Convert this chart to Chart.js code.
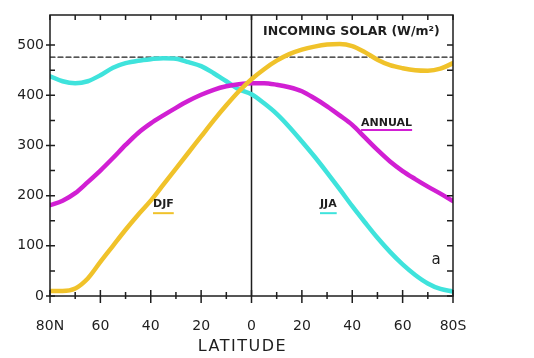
<!DOCTYPE html>
<html>
<head>
<meta charset="utf-8">
<script src="https://cdn.jsdelivr.net/npm/chart.js@4/dist/chart.umd.min.js"></script>
<style>
  html, body { margin: 0; padding: 0; background: #fff; }
</style>
</head>
<body>
<canvas id="solar" width="534" height="358"></canvas>
<script>
// incoming solar radiation (W/m2) by latitude, 80N (+) to 80S (-)
const lats   = [80, 75, 70, 65, 60, 55, 50, 45, 40, 35, 30, 25, 20, 15, 10, 5, 0,
                -5, -10, -15, -20, -25, -30, -35, -40, -45, -50, -55, -60, -65, -70, -75, -80];
const djf    = [10, 10, 15, 35, 68, 100, 132, 162, 190, 222, 254, 286, 318, 350, 380, 408, 432,
                452, 469, 482, 491, 497, 501, 502, 498, 486, 471, 460, 454, 450, 449, 453, 464];
const jja    = [438, 428, 424, 428, 440, 455, 464, 469, 472, 474, 473, 466, 458, 444, 428, 412, 402,
                384, 363, 337, 308, 278, 246, 213, 179, 147, 116, 88, 63, 42, 25, 14, 9];
const annual = [181, 190, 205, 227, 250, 275, 301, 325, 344, 360, 375, 389, 401, 411, 418, 422, 424,
                424, 421, 416, 408, 394, 378, 360, 341, 316, 291, 268, 249, 233, 218, 204, 189];
const dashedLevel = 476;

const xTickValues = [80, 70, 60, 50, 40, 30, 20, 10, 0, -10, -20, -30, -40, -50, -60, -70, -80];
const xTickText = {80: '80N', 60: '60', 40: '40', 20: '20', 0: '0', '-20': '20', '-40': '40', '-60': '60', '-80': '80S'};
const yTickValues = [0, 50, 100, 150, 200, 250, 300, 350, 400, 450, 500];

const CYAN = '#3fe3dc', MAGENTA = '#d11fd3', YELLOW = '#f0c22a', INK = '#1e1e1e';
const FONT = '"DejaVu Sans", sans-serif';

function pts(ys) { return lats.map((x, i) => ({x: x, y: ys[i]})); }

const labels = [
  {text: 'INCOMING SOLAR (W/m²)', lat: -4.6, val: 526, font: 'bold 12.5px ' + FONT},
  {text: 'ANNUAL', lat: -43.5, val: 345, font: 'bold 11px ' + FONT, under: MAGENTA, off: 7},
  {text: 'DJF', lat: 39.1, val: 183, font: 'bold 11px ' + FONT, under: YELLOW, off: 9},
  {text: 'JJA', lat: -27.2, val: 183, font: 'bold 11px ' + FONT, under: CYAN, off: 9},
  {text: 'a', lat: -71.5, val: 72, font: '15px ' + FONT}
];

const framePlugin = {
  id: 'frame',
  afterDatasetsDraw(chart) {
    const {ctx, chartArea: a, scales: {x, y}} = chart;
    ctx.save();
    ctx.strokeStyle = INK;
    ctx.lineWidth = 1.5;
    ctx.strokeRect(a.left, a.top, a.right - a.left, a.bottom - a.top);
    ctx.beginPath();
    yTickValues.forEach(v => {
      const py = y.getPixelForValue(v);
      const major = v % 100 === 0;
      ctx.moveTo(a.left - (major ? 4 : 0), py);
      ctx.lineTo(a.left + 5, py);
      ctx.moveTo(a.right, py);
      ctx.lineTo(a.right - 6, py);
    });
    xTickValues.forEach(v => {
      const px = x.getPixelForValue(v);
      const major = v % 20 === 0;
      ctx.moveTo(px, a.bottom + (major ? 7 : 3));
      ctx.lineTo(px, a.bottom - (major ? 6 : 4));
      ctx.moveTo(px, a.top);
      ctx.lineTo(px, a.top + 5);
    });
    ctx.stroke();

    ctx.fillStyle = INK;
    ctx.textBaseline = 'middle';
    labels.forEach(l => {
      ctx.font = l.font;
      const px = x.getPixelForValue(l.lat), py = y.getPixelForValue(l.val);
      ctx.textAlign = 'left';
      ctx.fillText(l.text, px, py);
      if (l.under) {
        const w = ctx.measureText(l.text).width;
        ctx.strokeStyle = l.under;
        ctx.lineWidth = 2;
        ctx.beginPath();
        ctx.moveTo(px, py + l.off);
        ctx.lineTo(px + w, py + l.off);
        ctx.stroke();
      }
    });
    // axis title
    ctx.font = '16px ' + FONT;
    ctx.letterSpacing = '1.5px';
    ctx.textAlign = 'center';
    ctx.fillText('LATITUDE', x.getPixelForValue(3.6), a.bottom + 51);
    ctx.restore();
  }
};

new Chart(document.getElementById('solar'), {
  type: 'line',
  data: {
    datasets: [
      {data: pts(djf), borderColor: YELLOW, borderWidth: 4.5},
      {data: pts(annual), borderColor: MAGENTA, borderWidth: 4.5},
      {data: pts(jja), borderColor: CYAN, borderWidth: 4.5},
      {data: [{x: 80, y: dashedLevel}, {x: -80, y: dashedLevel}], borderColor: INK, borderWidth: 1.2, borderDash: [5, 3]},
      {data: [{x: 0, y: 0}, {x: 0, y: 560}], borderColor: INK, borderWidth: 1.5}
    ]
  },
  options: {
    responsive: false,
    animation: false,
    layout: {padding: {left: 0, top: 15, right: 81, bottom: 0}},
    elements: {point: {radius: 0}, line: {cubicInterpolationMode: 'monotone', fill: false, borderCapStyle: 'round'}},
    plugins: {legend: {display: false}, tooltip: {enabled: false}},
    scales: {
      x: {
        type: 'linear', reverse: true, min: -80, max: 80,
        afterFit(s) { s.height = 62; },
        afterBuildTicks(s) { s.ticks = xTickValues.map(v => ({value: v})); },
        grid: {display: false, drawTicks: false, tickLength: 0},
        border: {display: false},
        ticks: {
          autoSkip: false, maxRotation: 0, padding: 22, color: INK,
          font: {family: FONT, size: 14},
          callback: v => xTickText[v] || ''
        }
      },
      y: {
        min: 0, max: 560,
        afterFit(s) { s.width = 50; },
        afterBuildTicks(s) { s.ticks = yTickValues.map(v => ({value: v})); },
        grid: {display: false, drawTicks: false, tickLength: 0},
        border: {display: false},
        ticks: {
          padding: 6, color: INK,
          font: {family: FONT, size: 14},
          callback: v => (v % 100 === 0 ? String(v) : '')
        }
      }
    }
  },
  plugins: [framePlugin]
});
</script>
</body>
</html>
